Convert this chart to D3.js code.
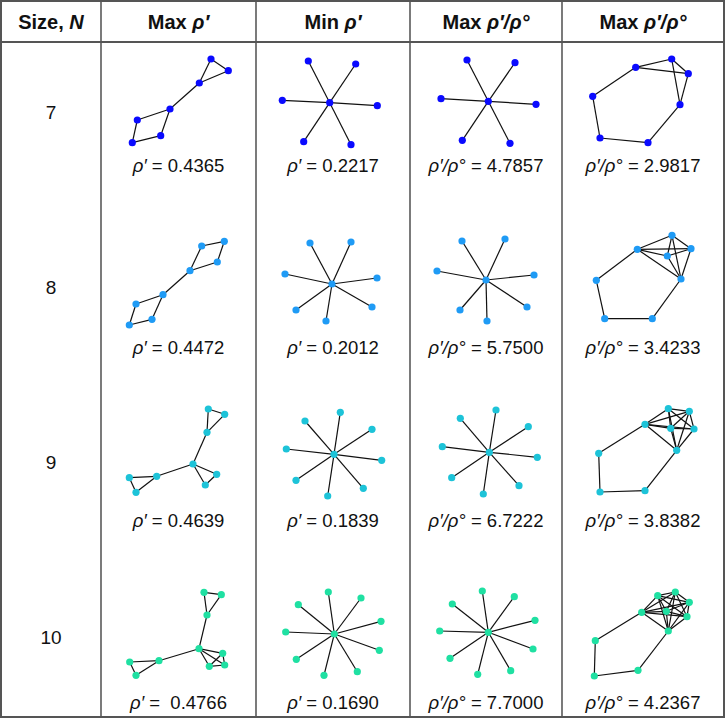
<!DOCTYPE html>
<html><head><meta charset="utf-8">
<script src="https://cdn.jsdelivr.net/npm/d3@7"></script>
<style>html,body{margin:0;padding:0;background:#fff;}svg{display:block;}</style>
</head><body>
<svg id="chart" width="727" height="719"></svg>
<script>
// ---------------- DATA ----------------
const sizes = ["7", "8", "9", "10"];
const headers = [
  [{t:"Size, "},{t:"N",i:true}],
  [{t:"Max "},{t:"ρ′",i:true}],
  [{t:"Min "},{t:"ρ′",i:true}],
  [{t:"Max "},{t:"ρ′/ρ°",i:true}],
  [{t:"Max "},{t:"ρ′/ρ°",i:true}]
];
const rowColors = ["#0a0aff", "#1f9bf5", "#1dc3d8", "#1fe0a2"];
const labelPrefix = ["ρ′", "ρ′", "ρ′/ρ°", "ρ′/ρ°"];
const values = [
  ["0.4365", "0.2217", "4.7857", "2.9817"],
  ["0.4472", "0.2012", "5.7500", "3.4233"],
  ["0.4639", "0.1839", "6.7222", "3.8382"],
  [" 0.4766", "0.1690", "7.7000", "4.2367"]
];
// node layouts (cell-local units), one array per graph
const nodes7a = [[110,17],[127.3,28.7],[98.3,41],[69,67],[36.3,78],[59.7,93.7],[31.3,100.7]];
const nodes7b = [[73.7,60.7],[52.3,19],[99.7,22],[26.3,58.3],[121.3,63.7],[47.7,99.7],[95,102.7]];
const nodes7c = [[78.3,59.3],[57,18],[105,20.7],[31,56.7],[126,62.3],[52.3,98.3],[100,101.3]];
const nodes7d = [[109.7,17],[126.3,31.7],[73.7,25.3],[118,62.7],[30.7,54.3],[38,96],[86,100.7]];
const nodes8a = [[100.7,29],[123.3,24.3],[116.3,45],[89,53.7],[62,77.7],[35,87],[51,102.3],[28.3,108]];
const nodes8b = [[76,67],[54,26],[95,25],[29,57],[121,61],[40,93],[70,104],[116,90]];
const nodes8c = [[76,63],[52,24],[95,22],[27,54],[124,58],[50,93],[77,104],[117,90]];
const nodes8d = [[110,18.3],[129,31.7],[75.3,32.3],[105.3,39],[119,62],[34.3,63.3],[42.7,101.7],[90.3,101.7]];
const nodes9a = [[107.3,17],[123.7,22.3],[106,40.3],[92,72],[115.7,82.3],[104.3,93],[55.7,84.3],[28.3,85.7],[35,100.3]];
const nodes9b = [[78,62.3],[84.3,20.3],[49,29],[116,37.3],[30.3,57],[125.7,68.3],[40,88.3],[107.3,96.3],[71.7,104]];
const nodes9c = [[79.3,60.3],[86,18],[50.3,26.3],[118.3,34.7],[32.3,54.7],[127.3,65.3],[41.7,85.7],[109,93.7],[73.3,102]];
const nodes9d = [[83,32.3],[106.3,16.7],[127.3,19.3],[108.7,36.3],[132,37],[114.7,58.3],[36.7,61.3],[38,100],[83,98.7]];
const nodes10a = [[103,25.3],[120.3,27.7],[106,48],[98,81.7],[121.7,86.3],[108.3,99.3],[123.7,98],[58,93.7],[28.7,95],[35,108.3]];
const nodes10b = [[78.3,67],[72.3,25],[105,31],[42.3,37.7],[125,54.3],[29.7,65],[123.3,83.3],[40.3,92.3],[101.3,104.7],[68,108.3]];
const nodes10c = [[78.3,65.3],[72.3,24],[104.3,29.7],[42.3,37],[125,53.3],[29.7,64],[123,82],[40,91.3],[100.7,103.7],[67.7,107.3]];
const nodes10d = [[95.7,28.7],[113.3,25],[127.3,35.3],[79.7,45.3],[104.3,44.3],[125,49.7],[106.3,64],[33.3,73.7],[32.3,109],[76,103.3]];

// edge lists (node index pairs)
function clique(ids){const e=[];for(let i=0;i<ids.length;i++)for(let j=i+1;j<ids.length;j++)e.push([ids[i],ids[j]]);return e;}
function star(n){const e=[];for(let i=1;i<n;i++)e.push([0,i]);return e;}
const edges7a = [[0,1],[1,2],[2,0],[2,3],[3,4],[4,6],[6,5],[5,3]];
const edges7d = [[2,0],[0,1],[2,1],[0,3],[1,3],[2,4],[4,5],[5,6],[6,3]];
const edges8a = [[0,1],[1,2],[2,3],[3,0],[3,4],[4,5],[5,7],[7,6],[6,4]];
const edges8d = clique([0,1,2,3,4]).concat([[2,5],[5,6],[6,7],[7,4]]);
const edges9a = [[0,1],[1,2],[2,0],[2,3],[3,4],[4,5],[5,3],[3,6],[6,7],[7,8],[8,6]];
const edges9d = clique([0,1,2,3,4,5]).concat([[0,6],[6,7],[7,8],[8,5]]);
const edges10a = [[0,1],[1,2],[2,0],[2,3]].concat(clique([3,4,5,6])).concat([[3,7],[7,8],[8,9],[9,7]]);
const edges10d = clique([0,1,2,3,4,5,6]).concat([[3,7],[7,8],[8,9],[9,6]]);

const graphs = [
  [[nodes7a,edges7a],[nodes7b,star(7)],[nodes7c,star(7)],[nodes7d,edges7d]],
  [[nodes8a,edges8a],[nodes8b,star(8)],[nodes8c,star(8)],[nodes8d,edges8d]],
  [[nodes9a,edges9a],[nodes9b,star(9)],[nodes9c,star(9)],[nodes9d,edges9d]],
  [[nodes10a,edges10a],[nodes10b,star(10)],[nodes10c,star(10)],[nodes10d,edges10d]]
];
const labelY = [123, 129.7, 128, 134.7];

// ---------------- LAYOUT ----------------
const colX = [1, 101, 256, 410, 562, 724];
const topY = 1, headerB = 42, rowH = 175, bottomY = 717;
const svg = d3.select("#chart");
const font = "'Liberation Sans', Arial, Helvetica, sans-serif";

// header
headers.forEach((h, c) => {
  const t = svg.append("text")
    .attr("x", (colX[c] + colX[c+1]) / 2).attr("y", 29)
    .attr("text-anchor", "middle").attr("font-family", font)
    .attr("font-size", 20).attr("font-weight", "bold").attr("fill", "#111");
  h.forEach(p => t.append("tspan").text(p.t).attr("font-style", p.i ? "italic" : null));
});

sizes.forEach((s, r) => {
  const rowTop = headerB + r * rowH;
  svg.append("text").attr("x", (colX[0] + colX[1]) / 2).attr("y", rowTop + 70 + 7)
    .attr("text-anchor", "middle").attr("font-family", font).attr("font-size", 19)
    .attr("fill", "#111").text(s);
  graphs[r].forEach(([nodes, edges], c) => {
    const left = colX[c+1];
    const x = d3.scaleLinear().domain([0, 100]).range([left, left + 100]);
    const y = d3.scaleLinear().domain([0, 100]).range([rowTop, rowTop + 100]);
    const g = svg.append("g");
    g.selectAll("line").data(edges).join("line")
      .attr("x1", d => x(nodes[d[0]][0])).attr("y1", d => y(nodes[d[0]][1]))
      .attr("x2", d => x(nodes[d[1]][0])).attr("y2", d => y(nodes[d[1]][1]))
      .attr("stroke", "#111").attr("stroke-width", 1.2);
    g.selectAll("circle").data(nodes).join("circle")
      .attr("cx", d => x(d[0])).attr("cy", d => y(d[1])).attr("r", 3.6)
      .attr("fill", rowColors[r]);
    const t = svg.append("text")
      .attr("x", (colX[c+1] + colX[c+2]) / 2).attr("y", y(labelY[r]) + 7)
      .attr("text-anchor", "middle").attr("font-family", font).attr("font-size", 18.5)
      .attr("fill", "#111").attr("xml:space", "preserve").style("white-space", "pre");
    t.append("tspan").attr("font-style", "italic").text(labelPrefix[c]);
    t.append("tspan").text(" = " + values[r][c]);
  });
});

// grid lines
for (let i = 1; i < colX.length - 1; i++) {
  svg.append("line").attr("x1", colX[i]).attr("x2", colX[i]).attr("y1", topY).attr("y2", bottomY)
    .attr("stroke", "#222").attr("stroke-width", 1.2);
}
svg.append("line").attr("x1", colX[0]).attr("x2", colX[5]).attr("y1", headerB).attr("y2", headerB)
  .attr("stroke", "#555").attr("stroke-width", 2);
svg.append("rect").attr("x", colX[0]).attr("y", topY).attr("width", colX[5] - colX[0]).attr("height", bottomY - topY)
  .attr("fill", "none").attr("stroke", "#555").attr("stroke-width", 2);
</script>
</body></html>
